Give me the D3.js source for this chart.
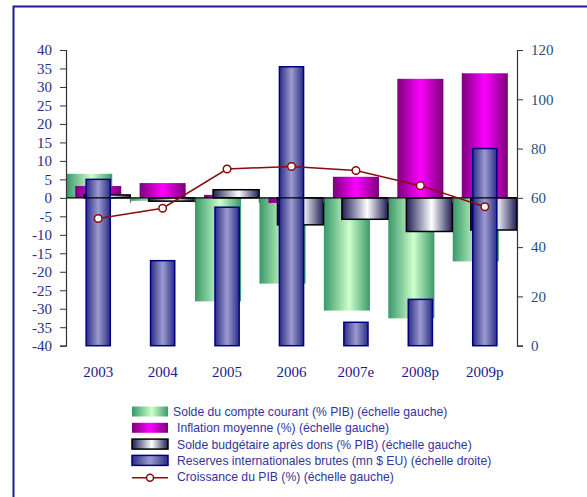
<!DOCTYPE html>
<html><head><meta charset="utf-8">
<script src="https://cdn.jsdelivr.net/npm/d3@7"></script>
<style>body{margin:0;background:#fff}svg{display:block}</style>
</head><body>
<svg id="c" width="587" height="497"></svg>
<script>
const years = ["2003","2004","2005","2006","2007e","2008p","2009p"];
const currentAccount = [6.5, -0.8, -28, -23.2, -30.5, -32.6, -17.2];
const inflation = [3.2, 4.0, 0.8, -1.4, 5.7, 32.2, 33.7];
const budget = [0.8, -0.9, 2.2, -7.3, -5.8, -9.1, -8.7];
const reserves = [67.5, 34.5, 56.2, 113.2, 9.5, 18.8, 80];
const gdp = [-5.6, -2.8, 7.8, 8.5, 7.4, 3.3, -2.4];
const leftTicks = d3.range(-40, 41, 5);
const rightTicks = d3.range(0, 121, 20);
const legendLabels = [
  "Solde du compte courant (% PIB) (échelle gauche)",
  "Inflation moyenne (%) (échelle gauche)",
  "Solde budgétaire après dons (% PIB) (échelle gauche)",
  "Reserves internationales brutes (mn $ EU) (échelle droite)",
  "Croissance du PIB (%) (échelle gauche)"
];

const svg = d3.select("#c");
const L = 66, R = 517, T = 50, B = 345.7;
const x = d3.scaleBand().domain(years).range([L, R]).padding(0);
const yL = d3.scaleLinear().domain([-40, 40]).range([B, T]);
const yR = d3.scaleLinear().domain([0, 120]).range([B, T]);
const bw = x.bandwidth();

const defs = svg.append("defs");
function grad(id, stops) {
  const g = defs.append("linearGradient").attr("id", id).attr("x1", "0%").attr("x2", "100%").attr("y1", "0%").attr("y2", "0%");
  stops.forEach(s => g.append("stop").attr("offset", s[0]).attr("stop-color", s[1]));
}
grad("gGreen", [["0%", "#399868"], ["55%", "#ccffcc"], ["100%", "#3a9a69"]]);
grad("gMag", [["0%", "#7a007a"], ["50%", "#ff00ff"], ["100%", "#7a007a"]]);
grad("gBud", [["0%", "#1e1e55"], ["55%", "#ffffff"], ["100%", "#1e1e55"]]);
grad("gBlue", [["0%", "#2c2c86"], ["50%", "#9c9cd0"], ["100%", "#2c2c86"]]);

svg.append("path").attr("d", "M13.5,600 L13.5,6.5 L600,6.5").attr("fill", "none").attr("stroke", "#1c1c8c").attr("stroke-width", 2);

const bW = bw * 0.715, off = bw * 0.14, blueW = bw * 0.375;
function bars(data, scale, base, fill, dx, w, stroke, sw) {
  svg.append("g").selectAll("rect").data(data).join("rect")
    .attr("x", (d, i) => x(years[i]) + bw / 2 + dx - w / 2)
    .attr("width", w)
    .attr("y", d => Math.min(scale(d), scale(base)))
    .attr("height", d => Math.abs(scale(d) - scale(base)))
    .attr("fill", fill)
    .attr("stroke", stroke || "none")
    .attr("stroke-width", sw || 0);
}
bars(currentAccount, yL, 0, "url(#gGreen)", -off, bW);
bars(inflation, yL, 0, "url(#gMag)", 0, bW);
bars(budget, yL, 0, "url(#gBud)", off, bW, "#000", 1.5);
bars(reserves, yR, 0, "url(#gBlue)", 0, blueW, "#000080", 1.5);

svg.append("line").attr("x1", L).attr("x2", R).attr("y1", yL(0)).attr("y2", yL(0)).attr("stroke", "#000").attr("stroke-width", 1.2);
svg.append("g").selectAll("line").data(years.slice(1)).join("line")
  .attr("x1", d => x(d)).attr("x2", d => x(d)).attr("y1", yL(0)).attr("y2", yL(0) + 5)
  .attr("stroke", "#555").attr("stroke-width", 1);

const lineGen = d3.line().x((d, i) => x(years[i]) + bw / 2).y(d => yL(d));
svg.append("path").datum(gdp).attr("d", lineGen).attr("fill", "none").attr("stroke", "#8b0b0b").attr("stroke-width", 1.5);
svg.append("g").selectAll("circle").data(gdp).join("circle")
  .attr("cx", (d, i) => x(years[i]) + bw / 2).attr("cy", d => yL(d)).attr("r", 3.8)
  .attr("fill", "#fff").attr("stroke", "#8b0b0b").attr("stroke-width", 1.5);

const fmt = d => String(d);
const axL = svg.append("g").attr("transform", `translate(${L},0)`)
  .call(d3.axisLeft(yL).tickValues(leftTicks).tickFormat(fmt).tickSize(6).tickPadding(8));
axL.select(".domain").attr("stroke", "#333").attr("stroke-width", 1.2);
axL.selectAll(".tick line").attr("stroke", "#333");
axL.selectAll("text").attr("font-family", "'Liberation Serif', serif").attr("font-size", 15).attr("fill", "#2b2b8a");

const axR = svg.append("g").attr("transform", `translate(${R},0)`)
  .call(d3.axisRight(yR).tickValues(rightTicks).tickFormat(fmt).tickSize(6).tickPadding(8));
axR.select(".domain").attr("stroke", "#333").attr("stroke-width", 1.2);
axR.selectAll(".tick line").attr("stroke", "#333");
axR.selectAll("text").attr("font-family", "'Liberation Serif', serif").attr("font-size", 15).attr("fill", "#1f4f80");

svg.append("g").selectAll("text").data(years).join("text")
  .attr("x", d => x(d) + bw / 2).attr("y", 377).attr("text-anchor", "middle")
  .attr("font-family", "'Liberation Serif', serif").attr("font-size", 15).attr("fill", "#1a1a8c")
  .text(d => d);

const fills = ["url(#gGreen)", "url(#gMag)", "url(#gBud)", "url(#gBlue)"];
const strokes = [null, null, "#000", "#000080"];
const lg = svg.append("g");
legendLabels.forEach((t, i) => {
  const cy = 411.5 + i * 16.3;
  if (i < 4) {
    lg.append("rect").attr("x", 132).attr("y", cy - 5).attr("width", 36).attr("height", 10)
      .attr("fill", fills[i]).attr("stroke", strokes[i] || "none").attr("stroke-width", strokes[i] ? 1.5 : 0);
  } else {
    lg.append("line").attr("x1", 132).attr("x2", 168).attr("y1", cy + 1).attr("y2", cy + 1).attr("stroke", "#8b0b0b").attr("stroke-width", 1.5);
    lg.append("circle").attr("cx", 150).attr("cy", cy + 1).attr("r", 3.5).attr("fill", "#fff").attr("stroke", "#8b0b0b").attr("stroke-width", 1.5);
  }
  lg.append("text").attr("x", i === 0 ? 173 : 177).attr("y", cy + 4.5)
    .attr("font-family", "'Liberation Sans', Arial, sans-serif").attr("font-size", 12.2).attr("fill", "#3333a0")
    .text(t);
});
</script>
</body></html>
